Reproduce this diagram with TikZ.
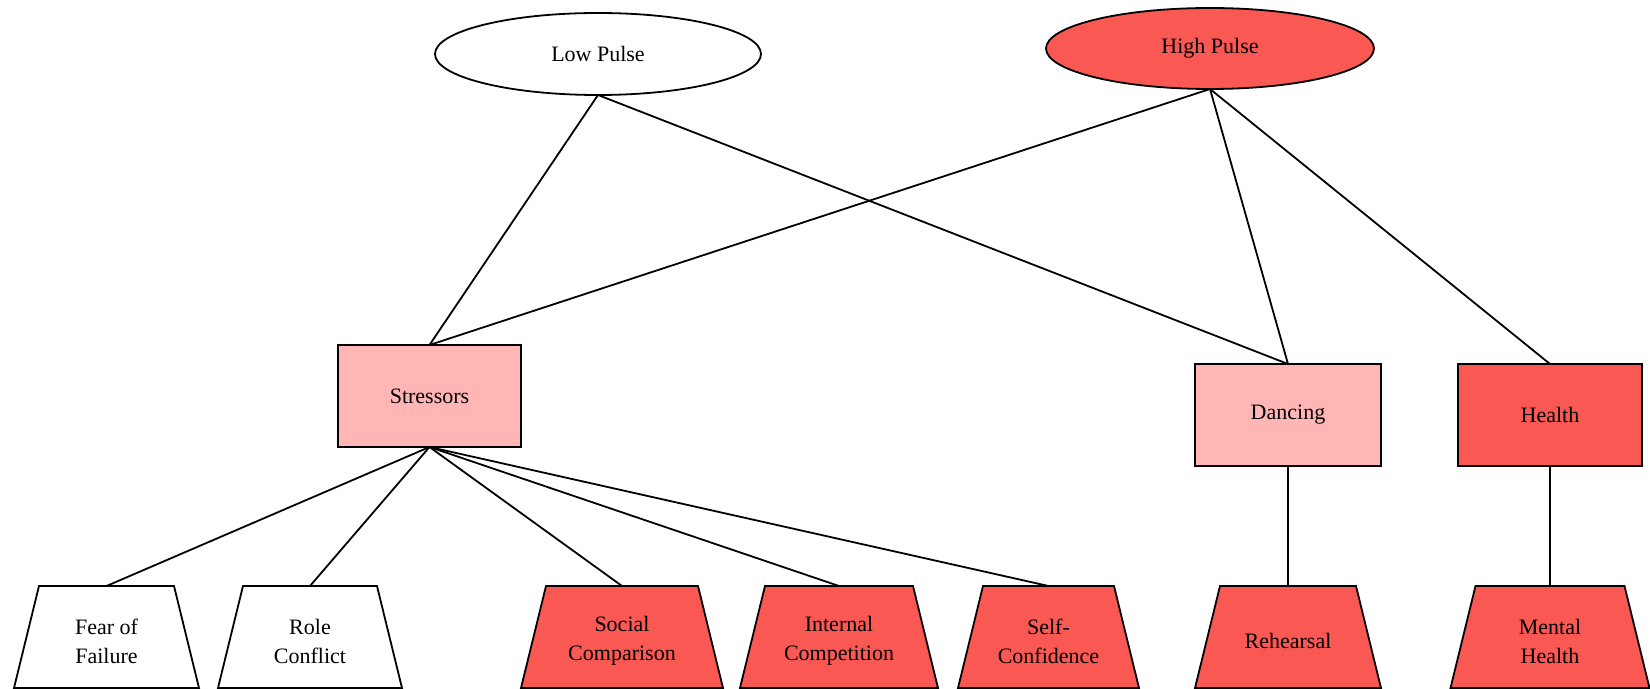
\documentclass[tikz,border=0pt]{standalone}
\usepackage{fontspec}
\setmainfont{Liberation Serif}
\usetikzlibrary{shapes.geometric}
\definecolor{hotred}{RGB}{250,88,83}
\definecolor{softpink}{RGB}{255,182,181}
\begin{document}
\begin{tikzpicture}[x=0.5pt,y=-0.5pt,
  every node/.style={font=\fontsize{11}{14.5}\selectfont, inner sep=0pt, outer sep=0pt},
  pulse/.style={ellipse, draw, line width=0.9pt},
  topic/.style={rectangle, draw, line width=0.9pt, minimum height=51pt},
  leafframe/.style={rectangle, minimum height=51pt},
  caption/.style={align=center},
  link/.style={line width=0.9pt}]
\useasboundingbox (0,0) rectangle (1650,689);

% top level
\node[pulse, minimum width=163pt, minimum height=41pt] (lp) at (598,54) {Low Pulse};
\node[pulse, fill=hotred, minimum width=164pt, minimum height=40.5pt] (hp) at (1210,48.5) {High Pulse};

% middle level
\node[topic, fill=softpink, minimum width=91.5pt] (st) at (429.5,396) {Stressors};
\node[topic, fill=softpink, minimum width=93pt] (da) at (1288,415) {Dancing};
\node[topic, fill=hotred, minimum width=92pt] (he) at (1550,415) {Health};

% bottom level: frames that carry the trapezoid outlines
\node[leafframe, minimum width=92.5pt] (ff) at (106.5,637) {};
\node[leafframe, minimum width=92pt] (rc) at (310,637) {};
\node[leafframe, minimum width=101pt] (sc) at (622,637) {};
\node[leafframe, minimum width=99pt] (ic) at (839,637) {};
\node[leafframe, minimum width=90.5pt] (sf) at (1048.5,637) {};
\node[leafframe, minimum width=93pt] (rh) at (1288,637) {};
\node[leafframe, minimum width=99.5pt] (mh) at (1550,637) {};

% trapezoid outlines, narrower at the top
\foreach \n/\f in {ff/white,rc/white,sc/hotred,ic/hotred,sf/hotred,rh/hotred,mh/hotred}
  \draw[link, fill=\f] ([xshift=12.5pt]\n.north west) -- ([xshift=-12.5pt]\n.north east)
    -- (\n.south east) -- (\n.south west) -- cycle;

\node[caption] (ff-t) at ([yshift=-2pt]ff.center) {Fear of\\Failure};
\node[caption] (rc-t) at ([yshift=-2pt]rc.center) {Role\\Conflict};
\node[caption] (sc-t) at ([yshift=-2pt]sc.center) {Social\\Comparison};
\node[caption] (ic-t) at ([yshift=-2pt]ic.center) {Internal\\Competition};
\node[caption] (sf-t) at ([yshift=-2pt]sf.center) {Self-\\Confidence};
\node[caption] (rh-t) at ([yshift=-2pt]rh.center) {Rehearsal};
\node[caption] (mh-t) at ([yshift=-2pt]mh.center) {Mental\\Health};

% connectors
\draw[link] (lp.south) -- (st.north);
\draw[link] (lp.south) -- (da.north);
\draw[link] (hp.south) -- (st.north);
\draw[link] (hp.south) -- (da.north);
\draw[link] (hp.south) -- (he.north);
\foreach \t in {ff,rc,sc,ic,sf}
  \draw[link] (st.south) -- (\t.north);
\draw[link] (da.south) -- (rh.north);
\draw[link] (he.south) -- (mh.north);
\end{tikzpicture}
\end{document}
